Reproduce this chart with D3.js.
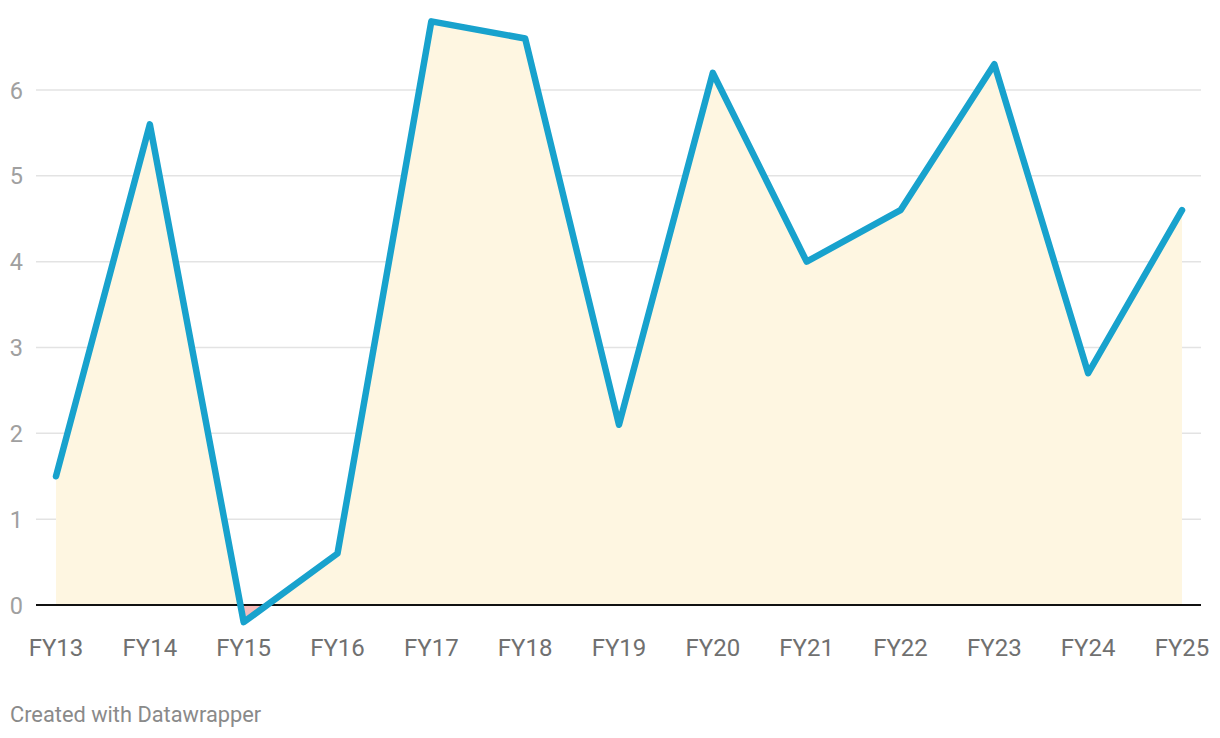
<!DOCTYPE html>
<html><head><meta charset="utf-8">
<script src="https://cdn.jsdelivr.net/npm/d3@7"></script>
<style>body{margin:0;background:#fff;font-family:Roboto,sans-serif}</style>
</head><body><svg id="c" width="1220" height="738"></svg>
<script>
const categories = ["FY13","FY14","FY15","FY16","FY17","FY18","FY19","FY20","FY21","FY22","FY23","FY24","FY25"];
const values = [1.5,5.6,-0.2,0.6,6.8,6.6,2.1,6.2,4.0,4.6,6.3,2.7,4.6];
const yTicks = [0,1,2,3,4,5,6];

const svg = d3.select("#c");
const x = d3.scalePoint().domain(categories).range([56,1182]);
const y = d3.scaleLinear().domain([0,6]).range([605,90]);

const defs = svg.append("defs");
defs.append("clipPath").attr("id","pos").append("rect").attr("x",0).attr("y",0).attr("width",1220).attr("height",y(0));
defs.append("clipPath").attr("id","neg").append("rect").attr("x",0).attr("y",y(0)).attr("width",1220).attr("height",738-y(0));

const g = svg.append("g");
g.selectAll("line.grid").data(yTicks.filter(d=>d!==0)).join("line")
  .attr("x1",36).attr("x2",1201).attr("y1",d=>y(d)).attr("y2",d=>y(d))
  .attr("stroke","#e3e3e3").attr("stroke-width",1.5);
g.selectAll("text.yl").data(yTicks).join("text")
  .attr("x",23).attr("y",d=>y(d)+8.5).attr("text-anchor","end")
  .attr("fill","#a0a0a0").attr("font-size",23.5).text(d=>d);

const area = d3.area().x((d,i)=>x(categories[i])).y0(y(0)).y1(d=>y(d));
svg.append("path").datum(values).attr("d",area).attr("fill","#fef6e1").attr("clip-path","url(#pos)");
svg.append("path").datum(values).attr("d",area).attr("fill","#f7bcbc").attr("clip-path","url(#neg)");

svg.append("line").attr("x1",36).attr("x2",1201).attr("y1",y(0)).attr("y2",y(0))
  .attr("stroke","#111").attr("stroke-width",2);

const line = d3.line().x((d,i)=>x(categories[i])).y(d=>y(d));
svg.append("path").datum(values).attr("d",line).attr("fill","none")
  .attr("stroke","#18a2cd").attr("stroke-width",6.5).attr("stroke-linejoin","round").attr("stroke-linecap","round");

svg.selectAll("text.xl").data(categories).join("text")
  .attr("x",d=>x(d)).attr("y",656).attr("text-anchor","middle")
  .attr("fill","#707070").attr("font-size",24).text(d=>d);

svg.append("text").attr("x",10).attr("y",722).attr("fill","#8a8a8a").attr("font-size",21.8).text("Created with Datawrapper");
</script></body></html>
